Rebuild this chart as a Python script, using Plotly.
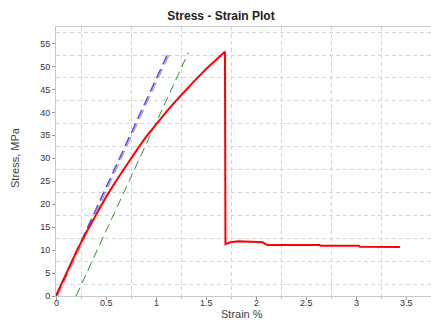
import plotly.graph_objects as go

# Measured stress-strain curve (strain in %, stress in MPa)
strain = [0.0, 0.05, 0.1, 0.2, 0.3, 0.4, 0.5, 0.6, 0.7, 0.8, 0.9, 1.0, 1.1, 1.2,
          1.3, 1.4, 1.5, 1.6, 1.685,
          1.69, 1.70, 1.74, 1.82, 1.93, 2.06, 2.09, 2.11, 2.63, 2.64, 3.02, 3.03, 3.43]
stress = [0.0, 2.4, 4.8, 9.5, 13.8, 17.8, 21.6, 25.1, 28.4, 31.6, 34.7, 37.5, 40.1, 42.6,
          45.0, 47.3, 49.5, 51.5, 53.2,
          11.3, 11.4, 11.7, 11.9, 11.8, 11.7, 11.3, 11.1, 11.1, 10.95, 10.95, 10.75, 10.7]

# Modulus fit lines and 0.2 % offset line
modulus_strain = [0.0, 1.12]
modulus_stress = [0.0, 53.0]
offset_strain = [0.2, 1.32]
offset_stress = [0.0, 53.0]

x_ticks = [0, 0.5, 1, 1.5, 2, 2.5, 3, 3.5]
y_ticks = [0, 5, 10, 15, 20, 25, 30, 35, 40, 45, 50, 55]

fig = go.Figure()

fig.add_trace(go.Scatter(
    x=offset_strain, y=offset_stress, mode="lines",
    line=dict(color="#2f8f2f", width=1, dash="9px,5px"), hoverinfo="skip"))

fig.add_trace(go.Scatter(
    x=[v + 0.018 for v in modulus_strain], y=modulus_stress, mode="lines",
    line=dict(color="rgba(170,80,80,0.7)", width=1, dash="10px,5px"), hoverinfo="skip"))

fig.add_trace(go.Scatter(
    x=modulus_strain, y=modulus_stress, mode="lines",
    line=dict(color="rgba(50,50,255,0.85)", width=1.6, dash="10px,5px"), hoverinfo="skip"))

fig.add_trace(go.Scatter(
    x=strain, y=stress, mode="lines",
    line=dict(color="#ff0000", width=2), hoverinfo="skip"))

font_family = "Liberation Sans, Arial, sans-serif"
axis_font = dict(family=font_family, size=9, color="#333333")

# x tick labels placed just under the axis line
x_labels = [
    dict(text=str(v), xref="x", yref="paper", x=v, y=-7 / 269,
         showarrow=False, xanchor="center", yanchor="middle", font=axis_font)
    for v in x_ticks
]

fig.update_layout(
    width=431, height=320,
    margin=dict(l=56, r=0, t=27, b=24),
    paper_bgcolor="white", plot_bgcolor="white",
    showlegend=False,
    font=dict(family=font_family),
    title=dict(text="<b>Stress - Strain Plot</b>", x=221 / 431, xanchor="center",
               y=1 - 15.5 / 320, yanchor="middle",
               font=dict(size=12, color="#222222")),
    xaxis=dict(
        range=[0, 3.74], tickvals=x_ticks, showticklabels=False,
        showgrid=False, zeroline=False,
        showline=True, linecolor="#c8c8c8", linewidth=1, mirror=True,
        ticks="outside", ticklen=3, tickcolor="#999999",
        minor=dict(tick0=0.25, dtick=0.5, showgrid=True, gridcolor="#d4d4d4",
                   griddash="4px,3px", gridwidth=1,
                   ticks="outside", ticklen=2, tickcolor="#bbbbbb"),
    ),
    yaxis=dict(
        range=[0, 58.6], tickvals=y_ticks, ticktext=[str(v) for v in y_ticks],
        showgrid=False, zeroline=False,
        showline=True, linecolor="#c8c8c8", linewidth=1,
        ticks="outside", ticklen=3, tickcolor="#999999",
        tickfont=axis_font,
        minor=dict(tick0=2.5, dtick=5, showgrid=True, gridcolor="#d4d4d4",
                   griddash="4px,3px", gridwidth=1),
    ),
    annotations=x_labels + [
        dict(text="Stress, MPa", xref="paper", yref="paper",
             x=(15 - 56) / 375, y=(296 - 158) / 269, textangle=-90,
             showarrow=False, xanchor="center", yanchor="middle",
             font=dict(size=11, color="#404040")),
        dict(text="Strain %", xref="paper", yref="paper",
             x=(242 - 56) / 375, y=(296 - 314) / 269,
             showarrow=False, xanchor="center", yanchor="middle",
             font=dict(size=11, color="#404040")),
    ],
)

fig.write_html("out.html")
